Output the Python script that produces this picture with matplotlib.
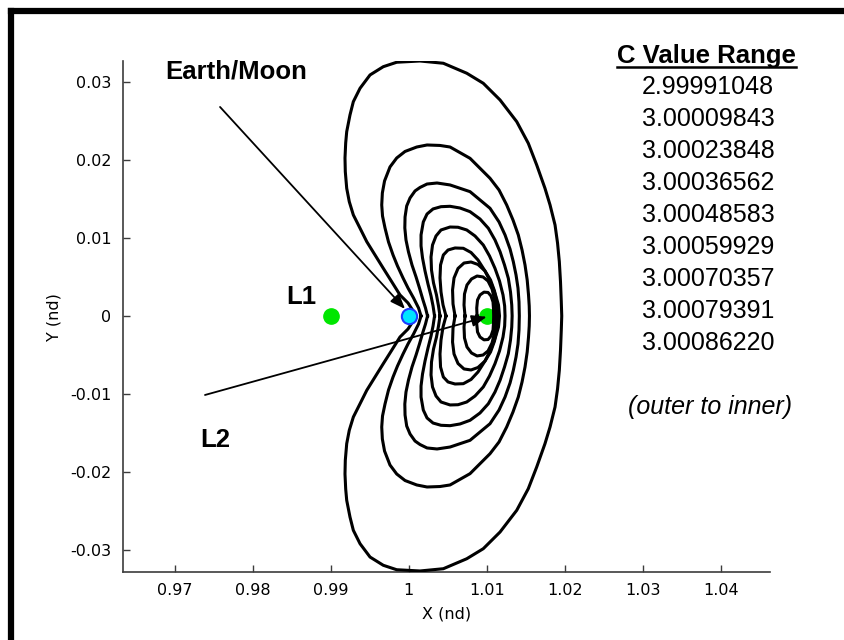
import matplotlib
matplotlib.use('Agg')
import matplotlib.pyplot as plt
from matplotlib.lines import Line2D

# Lyapunov orbits about L2 (upper halves; orbits are symmetric in y)
c_values = ['2.99991048', '3.00009843', '3.00023848', '3.00036562', '3.00048583',
            '3.00059929', '3.00070357', '3.00079391', '3.00086220']

orbit1_x = [1.00074, 1.00049, 0.99991, 0.99888, 0.99782, 0.99674, 0.99568, 0.99462, 0.99376, 0.99290,
            0.99238, 0.99205, 0.99187, 0.99183, 0.99192, 0.99205, 0.99247, 0.99290, 0.99376, 0.99504,
            0.99674, 0.99846, 1.00145, 1.00444, 1.00744, 1.00956, 1.01171, 1.01385, 1.01533, 1.01641,
            1.01747, 1.01812, 1.01876, 1.01908, 1.01931, 1.01946, 1.01956, 1.01962]
orbit1_y = [0, 0.00077, 0.00167, 0.00270, 0.00440, 0.00612, 0.00783, 0.00954, 0.01126, 0.01297,
            0.01467, 0.01639, 0.01852, 0.02028, 0.02221, 0.02366, 0.02580, 0.02751, 0.02923, 0.03094,
            0.03200, 0.03257, 0.03273, 0.03244, 0.03116, 0.02987, 0.02773, 0.02494, 0.02217, 0.01938,
            0.01639, 0.01425, 0.01168, 0.00937, 0.00697, 0.00440, 0.00184, 0]

orbit2_x = [1.00158, 1.00126, 1.00062, 0.99991, 0.99927, 0.99856, 0.99799, 0.99741, 0.99696, 0.99664,
            0.99654, 0.99662, 0.99690, 0.99760, 0.99846, 0.99953, 1.00103, 1.00235, 1.00401, 1.00530,
            1.00786, 1.01042, 1.01158, 1.01256, 1.01337, 1.01405, 1.01453, 1.01491, 1.01519, 1.01536,
            1.01545, 1.01548]
orbit2_y = [0, 0.00103, 0.00231, 0.00359, 0.00488, 0.00642, 0.00783, 0.00950, 0.01130, 0.01284,
            0.01425, 0.01579, 0.01733, 0.01913, 0.02028, 0.02112, 0.02169, 0.02195, 0.02189, 0.02169,
            0.02024, 0.01768, 0.01617, 0.01425, 0.01232, 0.01040, 0.00847, 0.00655, 0.00462, 0.00270,
            0.00128, 0]

orbit3_x = [1.00241, 1.00215, 1.00183, 1.00138, 1.00094, 1.00042, 0.99997, 0.99965, 0.99950, 0.99953,
            0.99974, 1.00017, 1.00081, 1.00145, 1.00235, 1.00363, 1.00530, 1.00786, 1.01042, 1.01158,
            1.01235, 1.01299, 1.01341, 1.01376, 1.01401, 1.01414, 1.01418]
orbit3_y = [0, 0.00103, 0.00205, 0.00359, 0.00501, 0.00655, 0.00822, 0.00976, 0.01130, 0.01271,
            0.01412, 0.01515, 0.01605, 0.01650, 0.01694, 0.01707, 0.01682, 0.01596, 0.01383, 0.01207,
            0.01040, 0.00860, 0.00697, 0.00526, 0.00359, 0.00180, 0]

orbit4_x = [1.00331, 1.00312, 1.00286, 1.00247, 1.00209, 1.00177, 1.00158, 1.00158, 1.00187, 1.00235,
            1.00312, 1.00414, 1.00530, 1.00658, 1.00786, 1.00914, 1.01021, 1.01106, 1.01171, 1.01228,
            1.01277, 1.01305, 1.01321, 1.01326]
orbit4_y = [0, 0.00128, 0.00257, 0.00411, 0.00578, 0.00745, 0.00899, 0.01040, 0.01207, 0.01309,
            0.01374, 0.01403, 0.01408, 0.01386, 0.01339, 0.01245, 0.01126, 0.00976, 0.00825, 0.00655,
            0.00484, 0.00308, 0.00141, 0]

orbit5_x = [1.00401, 1.00382, 1.00356, 1.00318, 1.00292, 1.00286, 1.00305, 1.00350, 1.00414, 1.00530,
            1.00632, 1.00744, 1.00850, 1.00956, 1.01036, 1.01106, 1.01164, 1.01209, 1.01230, 1.01235]
orbit5_y = [0, 0.00128, 0.00270, 0.00424, 0.00591, 0.00757, 0.00911, 0.01027, 0.01104, 0.01142,
            0.01139, 0.01104, 0.01027, 0.00911, 0.00770, 0.00612, 0.00449, 0.00270, 0.00128, 0]

orbit6_x = [1.00478, 1.00440, 1.00414, 1.00401, 1.00408, 1.00444, 1.00504, 1.00594, 1.00700, 1.00799,
            1.00888, 1.00978, 1.01055, 1.01113, 1.01151, 1.01164]
orbit6_y = [0, 0.00141, 0.00308, 0.00488, 0.00655, 0.00783, 0.00847, 0.00873, 0.00869, 0.00815,
            0.00719, 0.00578, 0.00424, 0.00270, 0.00141, 0]

orbit7_x = [1.00594, 1.00568, 1.00562, 1.00581, 1.00632, 1.00709, 1.00799, 1.00888, 1.00978, 1.01049,
            1.01100, 1.01130, 1.01139]
orbit7_y = [0, 0.00154, 0.00334, 0.00488, 0.00610, 0.00680, 0.00693, 0.00661, 0.00578, 0.00462,
            0.00321, 0.00167, 0]

orbit8_x = [1.00722, 1.00709, 1.00715, 1.00747, 1.00805, 1.00876, 1.00953, 1.01017, 1.01068, 1.01100,
            1.01110, 1.01113]
orbit8_y = [0, 0.00141, 0.00282, 0.00398, 0.00475, 0.00513, 0.00501, 0.00449, 0.00347, 0.00218,
            0.00103, 0]

orbit9_x = [1.00876, 1.00872, 1.00882, 1.00914, 1.00965, 1.01017, 1.01055, 1.01081, 1.01087, 1.01089]
orbit9_y = [0, 0.00103, 0.00205, 0.00270, 0.00306, 0.00302, 0.00257, 0.00180, 0.00090, 0]

orbits = [(orbit1_x, orbit1_y), (orbit2_x, orbit2_y), (orbit3_x, orbit3_y),
          (orbit4_x, orbit4_y), (orbit5_x, orbit5_y), (orbit6_x, orbit6_y),
          (orbit7_x, orbit7_y), (orbit8_x, orbit8_y), (orbit9_x, orbit9_y)]

earth_x = 1.0
l1_x = 0.9901
l2_x = 1.0101

xticks = [0.97, 0.98, 0.99, 1.00, 1.01, 1.02, 1.03, 1.04]
xtick_labels = ['0.97', '0.98', '0.99', '1', '1.01', '1.02', '1.03', '1.04']
yticks = [-0.03, -0.02, -0.01, 0, 0.01, 0.02, 0.03]
ytick_labels = ['-0.03', '-0.02', '-0.01', '0', '0.01', '0.02', '0.03']

W, H = 844, 640
fig = plt.figure(figsize=(W / 100, H / 100), dpi=100)
ax = fig.add_axes([122.7 / W, 1 - 572.3 / H, (770 - 122.7) / W, (572.3 - 61) / H])
ax.set_xlim(0.96333, 1.04632)
ax.set_ylim(-0.0329, 0.03273)

for ox, oy in orbits:
    xs = ox + ox[::-1]
    ys = oy + [-v for v in oy[::-1]]
    ax.plot(xs, ys, color='black', lw=2.2, solid_joinstyle='round', zorder=3)

ax.plot([l1_x], [0], 'o', ms=11, mfc='#00e600', mec='#00e600', zorder=4)
ax.plot([earth_x], [0], 'o', ms=11, mfc='#00e5ff', mec='#1a3cff', mew=1.5, zorder=4)
ax.plot([l2_x], [0], 'o', ms=11, mfc='#00e600', mec='#00e600', zorder=2)

arrow = dict(arrowstyle='-|>,head_length=0.9,head_width=0.35', color='black', lw=1.3,
             shrinkA=0, shrinkB=0)
ax.annotate('', xy=(0.99953, 0.0009), xytext=(0.97581, 0.02683), arrowprops=arrow, zorder=5)
ax.annotate('', xy=(1.0100, -0.0001), xytext=(0.97388, -0.01014), arrowprops=arrow, zorder=5)

bold = dict(family='Liberation Sans', fontweight='bold', fontsize=18.5, color='black')
ax.text(0.96876, 0.03132, 'Earth/Moon', ha='left', va='center', **bold)
ax.text(0.98623, 0.00244, 'L1', ha='center', va='center', **bold)
ax.text(0.97519, -0.01592, 'L2', ha='center', va='center', **bold)

# axes styling (MATLAB look, box off, ticks inward)
for s in ['top', 'right']:
    ax.spines[s].set_visible(False)
for s in ['left', 'bottom']:
    ax.spines[s].set_color('#3c3c3c')
    ax.spines[s].set_linewidth(1.2)
ax.set_xticks(xticks)
ax.set_xticklabels(xtick_labels)
ax.set_yticks(yticks)
ax.set_yticklabels(ytick_labels)
ax.tick_params(direction='in', length=5, width=1, color='#3c3c3c', labelsize=11.5, pad=8)
ax.set_xlabel('X (nd)', fontsize=11.5, labelpad=6)
ax.set_ylabel('Y (nd)', fontsize=11.5, labelpad=6)

# legend column on the right
fig.text(706 / W, 1 - 56 / H, 'C Value Range', ha='center', va='center', **bold)
fig.add_artist(Line2D([617 / W, 796 / W], [1 - 67 / H, 1 - 67 / H], color='black', lw=1.8))
for i, c in enumerate(c_values):
    fig.text(708 / W, 1 - (87 + 32 * i) / H, c, ha='center', va='center',
             family='Liberation Sans', fontsize=18)
fig.text(710 / W, 1 - 407 / H, '(outer to inner)', ha='center', va='center',
         family='Liberation Sans', fontsize=18, style='italic')

# thick frame round the figure
fig.add_artist(Line2D([11 / W, 11 / W], [0, 1 - 10.5 / H], color='black', lw=4.5,
                      solid_capstyle='projecting'))
fig.add_artist(Line2D([11 / W, 1], [1 - 10.5 / H, 1 - 10.5 / H], color='black', lw=4.5,
                      solid_capstyle='projecting'))

fig.savefig('out.png', dpi=100)
